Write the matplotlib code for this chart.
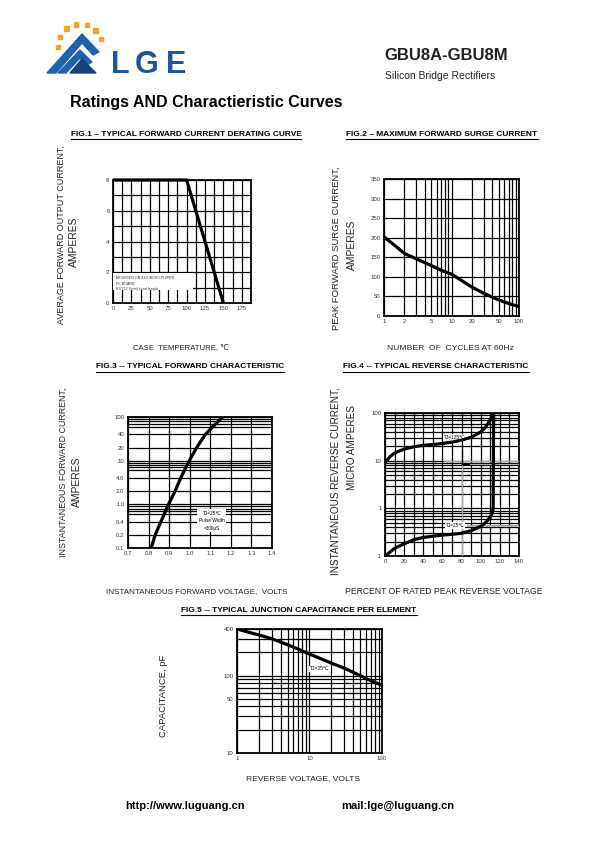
import matplotlib
matplotlib.use('Agg')
import matplotlib.pyplot as plt
from matplotlib.patches import Polygon, Rectangle
from matplotlib.lines import Line2D
import numpy as np

plt.rcParams['font.family'] = ['Liberation Sans', 'DejaVu Sans']

# ---------------- data ----------------
# Fig 1 - derating
fig1_temp = [0, 100, 150]
fig1_current = [8, 8, 0]
fig1_xticks = [0, 25, 50, 75, 100, 125, 150, 175]
fig1_yticks = [0, 2, 4, 6, 8]

# Fig 2 - surge
fig2_cycles = [1, 1.5, 2, 3, 5, 7, 10, 20, 30, 50, 70, 100]
fig2_surge = [202, 178, 160, 146, 129, 117, 107, 74, 58, 41, 32, 24]
fig2_xticks = [1, 2, 5, 10, 20, 50, 100]
fig2_yticks = [0, 50, 100, 150, 200, 250, 300, 350]

# Fig 3 - forward characteristic
fig3_volt = [0.813, 0.832, 0.86, 0.897, 0.929, 0.956, 0.998, 1.034, 1.076, 1.12, 1.16]
fig3_amp = [0.1, 0.2, 0.4, 1.0, 2.0, 4.0, 10, 20, 40, 65, 100]
fig3_xticks = [0.7, 0.8, 0.9, 1.0, 1.1, 1.2, 1.3, 1.4]
fig3_yticks = [0.1, 0.2, 0.4, 1.0, 2.0, 4.0, 10, 20, 40, 100]
fig3_ylabels = ['0.1', '0.2', '0.4', '1.0', '2.0', '4.0', '10', '20', '40', '100']

# Fig 4 - reverse characteristic
fig4_pct_125 = [0, 5, 10, 20, 30, 40, 50, 60, 70, 80, 90, 100, 105, 110, 113]
fig4_ir_125 = [9, 12, 14.5, 17.5, 19.5, 21, 21.8, 23, 24.5, 27, 31, 40, 50, 72, 100]
fig4_pct_25 = [0, 5, 10, 20, 30, 40, 50, 60, 70, 80, 90, 100, 105, 110, 112, 113, 113.5]
fig4_ir_25 = [0.1, 0.12, 0.145, 0.18, 0.22, 0.245, 0.26, 0.275, 0.285, 0.3, 0.34, 0.42, 0.5, 0.65, 0.8, 1.0, 100]
fig4_xticks = [0, 20, 40, 60, 80, 100, 120, 140]
fig4_yticks = [0.1, 1, 10, 100]
fig4_ylabels = ['.1', '1', '10', '100']

# Fig 5 - capacitance
fig5_volt = [1, 1.5, 2, 3, 5, 7, 10, 20, 30, 50, 70, 100]
fig5_cap = [400, 360, 335, 300, 250, 220, 190, 145, 125, 100, 86, 75]
fig5_xticks = [1, 10, 100]
fig5_yticks = [10, 50, 100, 400]

W, H = 595, 842
fig = plt.figure(figsize=(5.95, 8.42), dpi=100)

NARROW = ['Liberation Sans Narrow', 'Liberation Sans', 'DejaVu Sans']
SANS = ['Liberation Sans', 'DejaVu Sans']


def fx(x):
    return x / W


def fy(y):
    return 1 - y / H


def axes_px(l, t, r, b):
    return fig.add_axes([fx(l), fy(b), (r - l) / W, (b - t) / H])


def text_px(x, y, s, **kw):
    kw.setdefault('ha', 'center')
    kw.setdefault('va', 'center')
    return fig.text(fx(x), fy(y), s, **kw)


def style(ax):
    for s in ax.spines.values():
        s.set_linewidth(1.3)
        s.set_color('black')
    ax.tick_params(which='both', length=0, labelsize=4.3, pad=2.5, colors='#333333')
    ax.set_axisbelow(True)
    ax.grid(True, which='both', color='black', lw=0.9)


def log_minor(lo, hi, mult):
    out = []
    d = lo
    while d < hi:
        for m in mult:
            v = d * m
            if lo < v < hi:
                out.append(v)
        d *= 10
    return out


CURVE = dict(color='black', lw=2.3, solid_capstyle='butt', zorder=5)

# ---------------- header ----------------
logo = fig.add_axes([fx(40), fy(80), (200 - 40) / W, (80 - 15) / H])
logo.set_xlim(40, 200)
logo.set_ylim(80, 15)
logo.axis('off')
cx, cy, r = 80, 46, 22
for ang in [183, 155, 128, 100, 72, 45, 18]:
    a = np.deg2rad(ang)
    px, py = cx + r * np.cos(a), cy - r * np.sin(a)
    logo.add_patch(Rectangle((px - 2.2, py - 2.2), 4.4, 4.4, color='#f7a325'))
logo.add_patch(Polygon([(47, 73), (82, 34), (99, 52), (93, 55), (82, 43), (56, 73)],
                       closed=True, color='#1f63ad'))
logo.add_patch(Polygon([(58, 73), (80, 50), (92, 62), (87, 65), (80, 58), (66, 73)],
                       closed=True, color='#1f63ad'))
logo.add_patch(Polygon([(70, 73), (82, 59), (96, 73)], closed=True, color='#16447f'))
for letter, lx in [('L', 111), ('G', 135), ('E', 166)]:
    logo.text(lx, 73, letter, fontsize=22, fontweight='bold', color='#1b56a0',
              ha='left', va='baseline', family=SANS)

text_px(446, 55, 'GBU8A-GBU8M', fontsize=12, fontweight='bold', color='#222222')
text_px(440, 76, 'Silicon Bridge Rectifiers', fontsize=7.5, family=NARROW, color='#222222')
text_px(70, 103, 'Ratings AND Charactieristic Curves', fontsize=11.5,
        fontweight='bold', ha='left')

titles = []


def fig_title(x, y, s):
    t = text_px(x, y, s, fontsize=6.05, fontweight='bold', family=NARROW)
    titles.append(t)


fig_title(186, 134, 'FIG.1 \u2013 TYPICAL FORWARD CURRENT DERATING CURVE')
fig_title(442, 134, 'FIG.2 \u2013 MAXIMUM FORWARD SURGE CURRENT')
fig_title(190, 367, 'FIG.3 -- TYPICAL FORWARD CHARACTERISTIC')
fig_title(436, 367, 'FIG.4 -- TYPICAL REVERSE CHARACTERISTIC')
fig_title(299, 610, 'FIG.5 -- TYPICAL JUNCTION CAPACITANCE PER ELEMENT')

YL = dict(rotation=90, family=SANS, color='#222222')
XL = dict(family=NARROW + ['DejaVu Sans'], color='#222222')

# ---------------- Fig 1 ----------------
ax1 = axes_px(113, 180, 251, 303)
ax1.set_xlim(0, 187.5)
ax1.set_ylim(0, 8)
ax1.set_xticks(fig1_xticks)
ax1.set_xticks(np.arange(12.5, 187.5, 25), minor=True)
ax1.set_yticks(fig1_yticks)
ax1.set_yticks([1, 3, 5, 7], minor=True)
style(ax1)
ax1.plot(fig1_temp, fig1_current, **CURVE, clip_on=False)
ax1.add_patch(Rectangle((0.5, 0.85), 108, 1.1, facecolor='white', edgecolor='none', zorder=3))
ax1.text(4, 1.75, 'MOUNTED ON 4X4 INCH CPU/PER\nPC BOARD\n0.5"(12.7mm) Lead length',
         fontsize=2.6, va='top', ha='left', zorder=4, linespacing=1.5, color='#333333')
text_px(61, 235, 'AVERAGE FORWARD OUTPUT CURRENT,', fontsize=6.5, **YL)
text_px(74, 242, 'AMPERES', fontsize=7.4, **YL)
text_px(181, 349, 'CASE  TEMPERATURE, \u2103', fontsize=5.6, **XL)

# ---------------- Fig 2 ----------------
ax2 = axes_px(384, 179, 519, 316)
ax2.set_xscale('log')
ax2.set_xlim(1, 100)
ax2.set_ylim(0, 350)
ax2.set_xticks(fig2_xticks)
ax2.set_xticklabels([str(v) for v in fig2_xticks])
ax2.set_xticks(log_minor(1, 100, [3, 4, 6, 7, 8, 9]), minor=True)
ax2.xaxis.set_minor_formatter(matplotlib.ticker.NullFormatter())
ax2.set_yticks(fig2_yticks)
style(ax2)
ax2.plot(fig2_cycles, fig2_surge, **CURVE)
text_px(336, 248, 'PEAK FORWARD SURGE CURRENT,', fontsize=6.8, **YL)
text_px(352, 245, 'AMPERES', fontsize=7.4, **YL)
text_px(450, 349, 'NUMBER  OF  CYCLES AT 60Hz', fontsize=6.1, **XL)

# ---------------- Fig 3 ----------------
ax3 = axes_px(128, 417, 272, 548)
ax3.set_yscale('log')
ax3.set_xlim(0.7, 1.4)
ax3.set_ylim(0.1, 100)
ax3.set_xticks(fig3_xticks)
ax3.set_xticklabels(['%.1f' % v for v in fig3_xticks])
ax3.set_yticks(fig3_yticks)
ax3.set_yticklabels(fig3_ylabels)
ax3.set_yticks(log_minor(0.1, 100, [6, 7, 8, 9]), minor=True)
ax3.yaxis.set_minor_formatter(matplotlib.ticker.NullFormatter())
style(ax3)
ax3.plot(fig3_volt, fig3_amp, **CURVE)
ax3.text(1.108, 0.42, 'TJ=25\u2103\nPulse Width\n=300\u03bcS', fontsize=3.4, ha='center',
         va='center', zorder=4, linespacing=1.6,
         bbox=dict(facecolor='white', edgecolor='none', pad=1.2), family=SANS)
text_px(63, 472, 'INSTANTANEOUS FORWARD CURRENT,', fontsize=6.4, **YL)
text_px(77, 482, 'AMPERES', fontsize=7.4, **YL)
text_px(197, 592, 'INSTANTANEOUS FORWARD VOLTAGE,  VOLTS', fontsize=5.8, **XL)

# ---------------- Fig 4 ----------------
ax4 = axes_px(385, 413, 519, 556)
ax4.set_yscale('log')
ax4.set_xlim(0, 140)
ax4.set_ylim(0.1, 100)
ax4.set_xticks(fig4_xticks)
ax4.set_xticks(np.arange(10, 140, 20), minor=True)
ax4.set_yticks(fig4_yticks)
ax4.set_yticklabels(fig4_ylabels)
ax4.set_yticks(log_minor(0.1, 100, [2, 3, 4, 5, 6, 7, 8, 9]), minor=True)
ax4.yaxis.set_minor_formatter(matplotlib.ticker.NullFormatter())
style(ax4)
ax4.plot([62, 140], [10, 10], color='#aaaaaa', lw=0.9, zorder=3)
ax4.plot([80, 80], [0.1, 10], color='#aaaaaa', lw=0.9, zorder=3)
ax4.plot([88, 140], [8.6, 8.6], color='#aaaaaa', lw=0.9, zorder=3)
ax4.plot([80.5, 80.5], [8.6, 17], color='black', lw=0.9, zorder=3)
ax4.plot([80.5, 88], [8.6, 8.6], color='black', lw=0.9, zorder=3)
ax4.plot([87, 140], [0.42, 0.42], color='#aaaaaa', lw=1.5, zorder=3)
ax4.plot(fig4_pct_125, fig4_ir_125, **CURVE, clip_on=False)
ax4.plot(fig4_pct_25, fig4_ir_25, **CURVE, clip_on=False)
ax4.text(73, 31, 'TJ=125\u2103', fontsize=3.4, ha='center', va='center', zorder=4,
         bbox=dict(facecolor='white', edgecolor='none', pad=0.6), family=SANS)
ax4.text(73, 0.43, 'TJ=25\u2103', fontsize=3.4, ha='center', va='center', zorder=4,
         bbox=dict(facecolor='white', edgecolor='none', pad=0.6), family=SANS)
text_px(336, 481, 'INSTANTANEOUS REVERSE CURRENT,', fontsize=7.2, **YL)
text_px(352, 448, 'MICRO AMPERES', fontsize=7.2, **YL)
text_px(444, 592, 'PERCENT OF RATED PEAK REVERSE VOLTAGE', fontsize=6.2, **XL)

# ---------------- Fig 5 ----------------
ax5 = axes_px(237, 629, 382, 753)
ax5.set_xscale('log')
ax5.set_yscale('log')
ax5.set_xlim(1, 100)
ax5.set_ylim(10, 400)
ax5.set_xticks(fig5_xticks)
ax5.set_xticklabels([str(v) for v in fig5_xticks])
ax5.set_xticks(log_minor(1, 100, [2, 3, 4, 5, 6, 7, 8, 9]), minor=True)
ax5.set_yticks(fig5_yticks)
ax5.set_yticklabels([str(v) for v in fig5_yticks])
ax5.set_yticks([20, 30, 40, 60, 70, 80, 90, 200, 300], minor=True)
ax5.xaxis.set_minor_formatter(matplotlib.ticker.NullFormatter())
ax5.yaxis.set_minor_formatter(matplotlib.ticker.NullFormatter())
style(ax5)
ax5.plot(fig5_volt, fig5_cap, **CURVE)
ax5.text(14, 122, 'TJ=25\u2103', fontsize=3.6, ha='center', va='center', zorder=4,
         bbox=dict(facecolor='white', edgecolor='none', pad=0.6), family=SANS)
text_px(163, 696, 'CAPACITANCE, pF', fontsize=6.8, **YL)
text_px(303, 779, 'REVERSE VOLTAGE, VOLTS', fontsize=6.1, **XL)

# ---------------- footer ----------------
text_px(125, 806, 'http://www.luguang.cn', fontsize=8, fontweight='bold', ha='left')
text_px(341, 806, 'mail:lge@luguang.cn', fontsize=8, fontweight='bold', ha='left')

# underline the figure titles
fig.canvas.draw()
rend = fig.canvas.get_renderer()
for t in titles:
    bb = t.get_window_extent(rend)
    x0, x1 = bb.x0 / fig.bbox.width, bb.x1 / fig.bbox.width
    yy = (bb.y0 - 1.5) / fig.bbox.height
    fig.add_artist(Line2D([x0, x1], [yy, yy], color='black', lw=0.8,
                          transform=fig.transFigure))

fig.savefig('out.png', dpi=100)
